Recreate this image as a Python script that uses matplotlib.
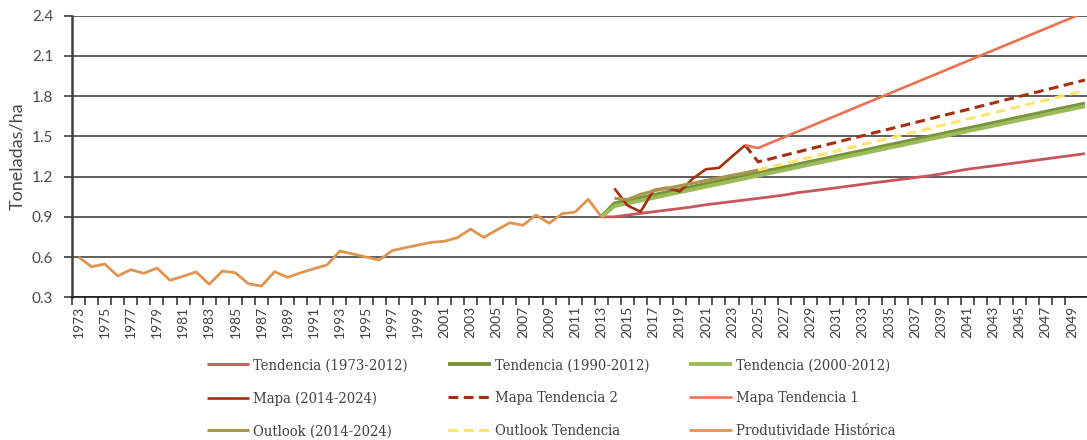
import matplotlib
matplotlib.use("Agg")
import matplotlib.pyplot as plt
from matplotlib.font_manager import FontProperties

# ---- data -------------------------------------------------------------
hist_start = 1973
hist_values = [0.600, 0.528, 0.548, 0.459, 0.506, 0.479, 0.518, 0.427, 0.457, 0.489,
               0.397, 0.496, 0.483, 0.401, 0.384, 0.491, 0.449, 0.483, 0.513, 0.541,
               0.645, 0.623, 0.600, 0.578, 0.648, 0.670, 0.690, 0.710, 0.718, 0.745,
               0.809, 0.747, 0.802, 0.856, 0.837, 0.914, 0.852, 0.923, 0.936, 1.031,
               0.901]

trend_start = 2013
trend_1973_2012 = [0.900, 0.900, 0.913, 0.926, 0.938, 0.950, 0.962, 0.975, 0.990, 1.002,
                   1.014, 1.026, 1.038, 1.050, 1.063, 1.080, 1.092, 1.104, 1.117, 1.130,
                   1.143, 1.156, 1.168, 1.180, 1.193, 1.205, 1.220, 1.238, 1.255, 1.268,
                   1.280, 1.293, 1.306, 1.319, 1.332, 1.345, 1.358, 1.371]
trend_1990_2012 = [0.900, 1.000, 1.021, 1.041, 1.062, 1.083, 1.104, 1.124, 1.145, 1.166,
                   1.186, 1.207, 1.228, 1.249, 1.269, 1.290, 1.311, 1.331, 1.352, 1.373,
                   1.393, 1.414, 1.435, 1.455, 1.476, 1.497, 1.517, 1.538, 1.559, 1.579,
                   1.600, 1.621, 1.642, 1.662, 1.683, 1.704, 1.724, 1.745]
trend_2000_2012 = [0.900, 0.980, 1.001, 1.021, 1.042, 1.063, 1.084, 1.104, 1.125, 1.146,
                   1.166, 1.187, 1.208, 1.229, 1.249, 1.270, 1.291, 1.311, 1.332, 1.353,
                   1.373, 1.394, 1.415, 1.435, 1.456, 1.477, 1.497, 1.518, 1.539, 1.559,
                   1.580, 1.601, 1.622, 1.642, 1.663, 1.684, 1.704, 1.725]

mapa_start = 2014
mapa_values = [1.112, 0.985, 0.938, 1.098, 1.117, 1.089, 1.185, 1.255, 1.265, 1.350, 1.434]

outlook_start = 2014
outlook_values = [1.038, 1.029, 1.068, 1.093, 1.112, 1.132, 1.151, 1.171, 1.190, 1.210,
                  1.229, 1.249]

mapa_trend_start = 2024
mapa_trend1 = [1.434, 1.413, 1.454, 1.494, 1.535, 1.575, 1.616, 1.656, 1.697, 1.737,
               1.778, 1.818, 1.859, 1.899, 1.940, 1.980, 2.021, 2.061, 2.102, 2.142,
               2.183, 2.223, 2.264, 2.304, 2.345, 2.385, 2.426]
mapa_trend2 = [1.434, 1.310, 1.334, 1.359, 1.383, 1.408, 1.432, 1.456, 1.481, 1.505,
               1.530, 1.554, 1.578, 1.603, 1.627, 1.652, 1.676, 1.700, 1.725, 1.749,
               1.774, 1.798, 1.822, 1.847, 1.871, 1.896, 1.920]

outlook_trend_start = 2025
outlook_trend = [1.249, 1.273, 1.296, 1.320, 1.344, 1.367, 1.391, 1.415, 1.439, 1.462,
                 1.486, 1.510, 1.533, 1.557, 1.581, 1.604, 1.628, 1.652, 1.676, 1.699,
                 1.723, 1.747, 1.770, 1.794, 1.818, 1.841]

first_year, last_year = 1973, 2050
y_ticks = [0.3, 0.6, 0.9, 1.2, 1.5, 1.8, 2.1, 2.4]


def yrs(start, vals):
    return list(range(start, start + len(vals)))


# ---- figure -----------------------------------------------------------
fig = plt.figure(figsize=(10.87, 4.40), dpi=100)
ax = fig.add_axes([72 / 1087, 1 - 297.3 / 440, 1 - 72 / 1087, (297.3 - 15.7) / 440])

series = [
    ("Tendencia (1973-2012)", trend_start, trend_1973_2012, "#c6565b", "-", 2.0),
    ("Tendencia (1990-2012)", trend_start, trend_1990_2012, "#77933c", "-", 2.8),
    ("Tendencia (2000-2012)", trend_start, trend_2000_2012, "#9bbb59", "-", 2.8),
    ("Mapa (2014-2024)", mapa_start, mapa_values, "#a52f10", "-", 1.9),
    ("Mapa Tendencia 2", mapa_trend_start, mapa_trend2, "#a52f10", (0, (3.2, 1.8)), 2.2),
    ("Mapa Tendencia 1", mapa_trend_start, mapa_trend1, "#ec7150", "-", 1.9),
    ("Outlook (2014-2024)", outlook_start, outlook_values, "#ab9650", "-", 2.2),
    ("Outlook Tendencia", outlook_trend_start, outlook_trend, "#ffe46e", (0, (3.2, 1.8)), 2.2),
    ("Produtividade Histórica", hist_start, hist_values, "#e0944f", "-", 2.0),
]

handles = {}
for z, (name, start, vals, color, ls, lw) in enumerate(series):
    ln, = ax.plot(yrs(start, vals), vals, color=color, linestyle=ls, linewidth=lw,
                  solid_capstyle="butt", dash_capstyle="butt", zorder=3 + z * 0.1,
                  label=name)
    handles[name] = ln

# axes ranges and grid
ax.set_xlim(first_year - 0.5, 2050.16)
ax.set_ylim(0.3, 2.4)
ax.set_yticks(y_ticks)
ax.set_yticklabels([f"{v:.1f}" for v in y_ticks])
ax.yaxis.grid(True, color="#333333", linewidth=1.1, zorder=1)
ax.set_axisbelow(True)

label_years = list(range(first_year, last_year, 2))
ax.set_xticks(label_years)
ax.set_xticklabels([str(y) for y in label_years], rotation=90)
ax.set_xticks([y - 0.5 for y in range(first_year, last_year)], minor=True)
ax.tick_params(axis="x", which="major", length=0, pad=6.0, labelsize=10,
               labelcolor="#404040")
ax.tick_params(axis="x", which="minor", length=6, width=1.1, color="#2a2a2a",
               direction="out")
ax.tick_params(axis="y", which="major", length=6, width=1.1, color="#2a2a2a",
               pad=7.5, labelsize=11, labelcolor="#4a4a4a")

for lab in ax.get_xticklabels() + ax.get_yticklabels():
    lab.set_family(["Lato", "DejaVu Sans"])

for side in ("top", "right"):
    ax.spines[side].set_visible(False)
ax.spines["left"].set_color("#404040")
ax.spines["left"].set_linewidth(1.8)
ax.spines["bottom"].set_color("#1a1a1a")
ax.spines["bottom"].set_linewidth(1.2)

ax.set_ylabel("Toneladas/ha", fontsize=13, color="#4a4a4a",
              family=["Lato", "DejaVu Sans"], labelpad=5)

# legend: three rows of three, filled row by row
order = ["Tendencia (1973-2012)", "Mapa (2014-2024)", "Outlook (2014-2024)",
         "Tendencia (1990-2012)", "Mapa Tendencia 2", "Outlook Tendencia",
         "Tendencia (2000-2012)", "Mapa Tendencia 1", "Produtividade Histórica"]
leg_font = FontProperties(family=["DejaVu Serif"], stretch="condensed", size=10.6)
leg = fig.legend([handles[n] for n in order], order, ncol=3, prop=leg_font,
                 loc="center", bbox_to_anchor=(551 / 1087, 1 - 398.5 / 440),
                 frameon=False, handlelength=2.9, handletextpad=0.27,
                 columnspacing=2.72, labelspacing=1.27)
for t in leg.get_texts():
    t.set_color("#404040")

fig.savefig("out.png", dpi=100)
